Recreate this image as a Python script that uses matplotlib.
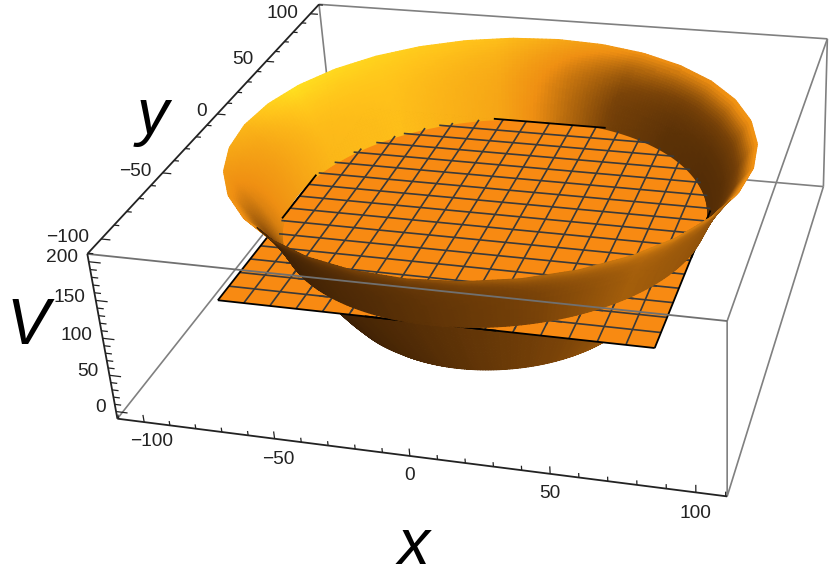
import numpy as np
import matplotlib
matplotlib.use("Agg")
import matplotlib.pyplot as plt
from matplotlib.colors import LinearSegmentedColormap
from mpl_toolkits.mplot3d.art3d import Poly3DCollection, Line3DCollection

W, H = 830, 586
plt.rcParams["font.family"] = ["Liberation Sans", "DejaVu Sans"]

# -----------------------------------------------------------------------
# Data
# -----------------------------------------------------------------------
X_RANGE = [-110.5, 110.5]
Y_RANGE = [-110.5, 110.5]
V_RANGE = [-10, 210]

major_ticks_xy = [-100, -50, 0, 50, 100]
major_ticks_v = [0, 50, 100, 150, 200]
minor_ticks_xy = [v for v in range(-110, 111, 10) if v % 50 != 0]
minor_ticks_v = [v for v in range(0, 201, 10) if v % 50 != 0]

# bowl profile, radius and height (surface of revolution)
bowl_r = [46, 52, 56, 60, 64, 68, 72, 76, 79, 81, 83, 85, 87, 89, 91, 93, 95, 97, 99.5]
bowl_V = [-10, -10, -7, 4, 20, 38, 58, 76, 92, 103, 117, 130, 142, 153, 163, 172, 181, 189, 198]
PLANE_RX = 80.5
PLANE_RY = 82.2
PLANE_V = 103
PLANE_HALF = 80
plane_lines = list(range(-80, 81, 10))
RIM_FACETS = 32

# brightness of the surface around the bowl
shade_theta = [-60, -20, 0, 30, 50, 70, 85, 105, 135, 160, 180, 202, 230]
inner_rim = [0.5, 0.5, 0.52, 0.54, 0.5, 0.52, 0.6, 0.76, 0.88, 0.96, 0.72, 0.56, 0.5]
inner_foot = [0.15, 0.12, 0.12, 0.12, 0.14, 0.22, 0.38, 0.62, 0.76, 0.72, 0.58, 0.45, 0.15]
outer_theta = [-158, -130, -100, -70, -40, -10, 20]
outer_foot = [0.08, 0.05, 0.12, 0.22, 0.34, 0.3, 0.25]
outer_rim = [0.18, 0.14, 0.24, 0.34, 0.46, 0.42, 0.35]
lower_foot = [0.05, 0.03, 0.1, 0.2, 0.3, 0.35, 0.3]

# box corners on the image, for the camera
corner_data = [
    (X_RANGE[0], Y_RANGE[0], V_RANGE[1]), (X_RANGE[1], Y_RANGE[0], V_RANGE[1]),
    (X_RANGE[1], Y_RANGE[1], V_RANGE[1]), (X_RANGE[0], Y_RANGE[1], V_RANGE[1]),
    (X_RANGE[0], Y_RANGE[0], V_RANGE[0]), (X_RANGE[1], Y_RANGE[0], V_RANGE[0]),
    (X_RANGE[1], Y_RANGE[1], V_RANGE[0]), (X_RANGE[0], Y_RANGE[1], V_RANGE[0]),
]
corner_px = [(88, 253), (727, 321), (828, 40), (318, 4),
             (117, 419), (727, 497), (823, 185), (335, 145)]

x_label_px = [(152, 442), (278, 459), (410, 476), (550, 494), (695, 513)]
y_label_px = [(68, 237), (135, 172), (202, 112), (243, 60), (282, 13)]
v_label_px = [(101, 408), (88, 372), (76, 335), (69, 297), (62, 258)]


def fit_camera(points, pixels):
    rows = []
    for (x, y, z), (u, v) in zip(points, pixels):
        rows.append([x, y, z, 1, 0, 0, 0, 0, -u * x, -u * y, -u * z, -u])
        rows.append([0, 0, 0, 0, x, y, z, 1, -v * x, -v * y, -v * z, -v])
    P = np.linalg.svd(np.array(rows, float))[2][-1].reshape(3, 4)
    if P[2] @ np.array([0, 0, 100, 1.0]) < 0:
        P = -P
    return P


P = fit_camera(corner_data, corner_px)


def to_px(x, y, z):
    h = P @ np.array([x, y, z, np.ones_like(x)])
    return h[0] / h[2], h[1] / h[2]


cmap = LinearSegmentedColormap.from_list(
    "bowl", [(0.0, "#331a04"), (0.25, "#7a4308"), (0.5, "#ef8f12"), (0.78, "#ffc21a"), (1.0, "#ffe620")])

fig = plt.figure(figsize=(W / 100, H / 100), dpi=100)
ax = fig.add_axes([-0.2, -0.3, 1.4, 1.6], projection="3d", computed_zorder=False)
ax.set_axis_off()
ax.apply_aspect()
flip = np.array([[1, 0, 0], [0, -1, H], [0, 0, 1.0]])
view = ax.transData.inverted().get_matrix() @ flip @ P
depth = view[2] - np.array([0, 0, 0, 0.5 * (view[2] @ [0, 0, 100, 1])])
M = np.vstack([view[0], view[1], depth, view[2]])
ax.get_proj = lambda: M


def facet_factor(th, frac):
    # rim is a coarse polygon in the reference, foot stays round
    step = 2 * np.pi / RIM_FACETS
    chord = np.cos(step / 2) / np.cos((th % step) - step / 2)
    return 1 + (chord - 1) * frac


def bowl_quads(j0, j1, shade, want_outer, zorder, facets=False):
    theta = np.radians(np.linspace(-180, 180, 361))
    steps = np.linspace(j0, j1, (j1 - j0) * 3 + 1)
    r = np.interp(steps, np.arange(len(bowl_r)), bowl_r)
    v = np.interp(steps, np.arange(len(bowl_V)), bowl_V)
    frac = np.linspace(0, 1, len(r)) if facets else np.zeros(len(r))
    quads, colors = [], []
    for i in range(len(theta) - 1):
        for j in range(len(r) - 1):
            ts = np.array([theta[i], theta[i + 1], theta[i + 1], theta[i]])
            rs = np.array([r[j], r[j], r[j + 1], r[j + 1]])
            fs = np.array([frac[j], frac[j], frac[j + 1], frac[j + 1]])
            rs = rs * facet_factor(ts, fs)
            qx = rs * np.cos(ts)
            qy = rs * np.sin(ts)
            qz = np.array([v[j], v[j], v[j + 1], v[j + 1]], float)
            u, w = to_px(qx, qy, qz)
            area = 0.5 * np.sum(u * np.roll(w, -1) - np.roll(u, -1) * w)
            if (area < 0) != want_outer:
                continue
            quads.append(list(zip(qx, qy, qz)))
            colors.append(cmap(shade(np.degrees(np.mean(theta[i:i + 2])), (j + 0.5) / (len(r) - 1))))
    col = Poly3DCollection(quads, facecolors=colors, edgecolors=colors, linewidths=0.8)
    col.set_zorder(zorder)
    ax.add_collection3d(col, autolim=False)


def inner_shade(t, f):
    a = np.interp(t, shade_theta, inner_foot, period=360)
    b = np.interp(t, shade_theta, inner_rim, period=360)
    return a + (b - a) * f ** 2.5


def outer_shade(t, f):
    a = np.interp(t, outer_theta, outer_foot, period=360)
    b = np.interp(t, outer_theta, outer_rim, period=360)
    return a + (b - a) * f ** 4


def lower_shade(t, f):
    return np.interp(t, outer_theta, lower_foot, period=360)


def add_lines(segments, color, lw, zorder):
    col = Line3DCollection(segments, colors=color, linewidths=lw)
    col.set_zorder(zorder)
    ax.add_collection3d(col, autolim=False)


j_plane = bowl_V.index(PLANE_V)
ORANGE = "#f88a12"
GREY = "#808080"
MESH = "#3a3a3a"
AXIS = "#222222"

# back box edges
add_lines([(corner_data[a], corner_data[b]) for a, b in
           [(3, 7), (7, 6), (6, 2), (3, 2), (7, 4), (6, 5), (2, 1), (1, 5)]], GREY, 1.2, 0)

bowl_quads(0, j_plane, lower_shade, True, 1)

square = [(-PLANE_HALF, -PLANE_HALF, PLANE_V), (PLANE_HALF, -PLANE_HALF, PLANE_V),
          (PLANE_HALF, PLANE_HALF, PLANE_V), (-PLANE_HALF, PLANE_HALF, PLANE_V)]
sq = Poly3DCollection([square], facecolors=ORANGE, edgecolors="none")
sq.set_zorder(2)
ax.add_collection3d(sq, autolim=False)


def chord(c, radius_along, radius_across):
    return min(radius_along * np.sqrt(max(1 - (c / radius_across) ** 2, 0)), PLANE_HALF)


def mesh_lines(half_x, half_y, zorder):
    thin, thick = [], []
    for c in plane_lines:
        target = thick if abs(c) == PLANE_HALF else thin
        target.append([(c, -half_y(c), PLANE_V), (c, half_y(c), PLANE_V)])
        target.append([(-half_x(c), c, PLANE_V), (half_x(c), c, PLANE_V)])
    add_lines(thin, MESH, 1.2, zorder)
    add_lines(thick, "black", 1.3, zorder)


mesh_lines(lambda c: PLANE_HALF, lambda c: PLANE_HALF, 3)

bowl_quads(j_plane, len(bowl_r) - 1, inner_shade, False, 4, facets=True)

# part of the plane inside the bowl
t = np.radians(np.linspace(0, 360, 181))
disc = [list(zip(np.clip(PLANE_RX * np.cos(t), -PLANE_HALF, PLANE_HALF),
                 np.clip(PLANE_RY * np.sin(t), -PLANE_HALF, PLANE_HALF),
                 np.full_like(t, PLANE_V)))]
dc = Poly3DCollection(disc, facecolors=ORANGE, edgecolors="none")
dc.set_zorder(5)
ax.add_collection3d(dc, autolim=False)
mesh_lines(lambda c: chord(c, PLANE_RX + 1.5, PLANE_RY + 1.5),
           lambda c: chord(c, PLANE_RY + 1.5, PLANE_RX + 1.5), 6)

bowl_quads(j_plane, len(bowl_r) - 1, outer_shade, True, 8, facets=True)

# front box edges
add_lines([(corner_data[0], corner_data[1])], "#707070", 1.3, 9)
add_lines([(corner_data[a], corner_data[b]) for a, b in [(0, 3), (0, 4), (4, 5)]], AXIS, 1.3, 10)

ticks = []
for val in major_ticks_xy + minor_ticks_xy:
    size = 10 if val in major_ticks_xy else 6
    ticks.append([(val, Y_RANGE[0], V_RANGE[0]), (val, Y_RANGE[0], V_RANGE[0] + size)])
    size = 3.5 if val in major_ticks_xy else 2
    ticks.append([(X_RANGE[0], val, V_RANGE[1]), (X_RANGE[0] + size, val, V_RANGE[1])])
for val in major_ticks_v + minor_ticks_v:
    size = 4.5 if val in major_ticks_v else 2.5
    ticks.append([(X_RANGE[0], Y_RANGE[0], val), (X_RANGE[0] + size, Y_RANGE[0], val)])
add_lines(ticks, AXIS, 0.9, 10)


def px_text(u, v, s, **kw):
    fig.text(u / W, 1 - v / H, s, ha="center", va="center", **kw)


for val, (u, v) in zip(major_ticks_xy, x_label_px):
    px_text(u, v, str(val).replace("-", "\u2212"), fontsize=13.8, color=AXIS)
for val, (u, v) in zip(major_ticks_xy, y_label_px):
    px_text(u, v, str(val).replace("-", "\u2212"), fontsize=13.8, color=AXIS)
for val, (u, v) in zip(major_ticks_v, v_label_px):
    px_text(u, v, str(val), fontsize=13.8, color=AXIS)
px_text(414, 547, "x", fontsize=46, style="italic")
px_text(153, 117, "y", fontsize=46, style="italic")
px_text(28, 327, "V", fontsize=46, style="italic")

fig.savefig("out.png", dpi=100)
